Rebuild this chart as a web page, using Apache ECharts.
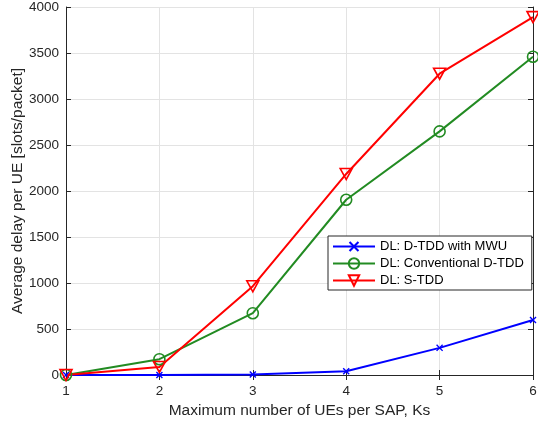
<!DOCTYPE html>
<html>
<head>
<meta charset="utf-8">
<script src="https://cdn.jsdelivr.net/npm/echarts@6/dist/echarts.min.js"></script>
<style>
  html, body { margin: 0; padding: 0; background: #fff; }
  #chart { width: 538px; height: 427px; }
</style>
</head>
<body>
<div id="chart"></div>
<script>
// x: max number of UEs per SAP
const ks = [1, 2, 3, 4, 5, 6];
const dtddMwu = [0, 0, 5, 40, 295, 597];
const conventionalDtdd = [0, 172, 672, 1905, 2648, 3460];
const sTdd = [0, 88, 965, 2185, 3275, 3890];

const axisColor = '#262626';
const font = 'Liberation Sans, Arial, Helvetica, sans-serif';
const crossPath = 'path://M0,1.4L1.4,0L5,3.6L8.6,0L10,1.4L6.4,5L10,8.6L8.6,10L5,6.4L1.4,10L0,8.6L3.6,5Z';

function pairs(ys) {
    return ks.map((k, i) => [k, ys[i]]);
}

const chart = echarts.init(document.getElementById('chart'));

const option = {
    animation: false,
    backgroundColor: '#fff',
    textStyle: { fontFamily: font },
    grid: { left: 66, right: 5, top: 7, bottom: 52, outerBoundsMode: 'none', containLabel: false },
    legend: {
        orient: 'vertical',
        left: 328,
        top: 236,
        padding: [4, 8, 3, 4],
        itemGap: 4,
        itemWidth: 42,
        itemHeight: 13,
        backgroundColor: '#fff',
        borderColor: axisColor,
        borderWidth: 1,
        borderRadius: 0,
        textStyle: { fontSize: 13, color: '#000', fontFamily: font },
        data: ['DL: D-TDD with MWU', 'DL: Conventional D-TDD', 'DL: S-TDD']
    },
    xAxis: [
        {
            type: 'value',
            min: 1, max: 6, interval: 1,
            name: 'Maximum number of UEs per SAP, Ks',
            nameLocation: 'middle',
            nameGap: 28,
            nameMoveOverlap: false,
            nameTextStyle: { fontSize: 15.5, color: '#262626', fontFamily: font },
            axisLine: { lineStyle: { color: axisColor, width: 1 } },
            axisTick: { inside: true, length: 5, lineStyle: { color: axisColor } },
            axisLabel: { fontSize: 13.5, color: '#262626', margin: 9 },
            splitLine: { show: true, lineStyle: { color: '#e3e3e3', width: 1 } }
        },
        {
            type: 'value', position: 'top',
            min: 1, max: 6, interval: 1,
            axisLine: { show: true, lineStyle: { color: axisColor, width: 1 } },
            axisTick: { show: true, inside: true, length: 5, lineStyle: { color: axisColor } },
            axisLabel: { show: false },
            splitLine: { show: false }
        }
    ],
    yAxis: [
        {
            type: 'value',
            min: 0, max: 4000, interval: 500,
            name: 'Average delay per UE [slots/packet]',
            nameLocation: 'middle',
            nameGap: 40,
            nameMoveOverlap: false,
            nameTextStyle: { fontSize: 15.5, color: '#262626', fontFamily: font },
            axisLine: { show: true, lineStyle: { color: axisColor, width: 1 } },
            axisTick: { show: true, inside: true, length: 5, lineStyle: { color: axisColor } },
            axisLabel: { fontSize: 13.5, color: '#262626', margin: 7, formatter: v => String(v) },
            splitLine: { show: true, lineStyle: { color: '#e3e3e3', width: 1 } }
        },
        {
            type: 'value', position: 'right',
            min: 0, max: 4000, interval: 500,
            axisLine: { show: true, lineStyle: { color: axisColor, width: 1 } },
            axisTick: { show: true, inside: true, length: 5, lineStyle: { color: axisColor } },
            axisLabel: { show: false },
            splitLine: { show: false }
        }
    ],
    series: [
        {
            name: 'DL: D-TDD with MWU',
            type: 'line',
            data: pairs(dtddMwu),
            symbol: crossPath,
            symbolSize: 7,
            itemStyle: { color: '#0000ff' },
            lineStyle: { color: '#0000ff', width: 2 }
        },
        {
            name: 'DL: Conventional D-TDD',
            type: 'line',
            data: pairs(conventionalDtdd),
            symbol: 'circle',
            symbolSize: 11,
            itemStyle: { color: 'rgba(0,0,0,0)', borderColor: '#228b22', borderWidth: 1.6 },
            lineStyle: { color: '#228b22', width: 2 }
        },
        {
            name: 'DL: S-TDD',
            type: 'line',
            data: pairs(sTdd),
            symbol: 'triangle',
            symbolRotate: 180,
            symbolSize: [12, 11],
            itemStyle: { color: 'rgba(0,0,0,0)', borderColor: '#ff0000', borderWidth: 1.6 },
            lineStyle: { color: '#ff0000', width: 2 }
        }
    ]
};

chart.setOption(option);
</script>
</body>
</html>
